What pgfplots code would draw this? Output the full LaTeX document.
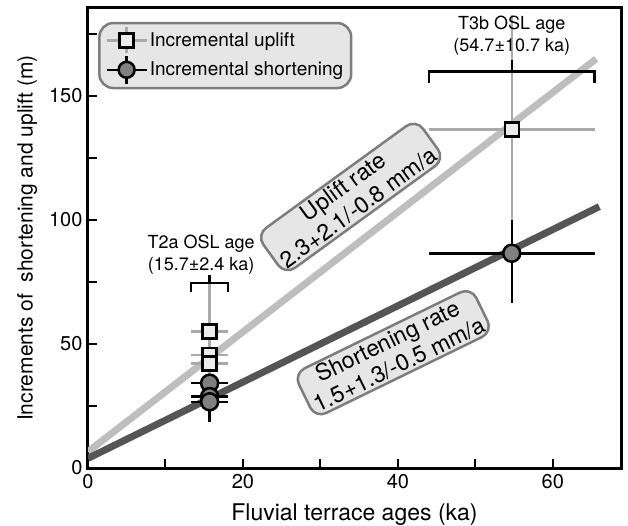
\documentclass[border=0pt]{standalone}
\usepackage{pgfplots}
\pgfplotsset{compat=1.18}
\usepackage{fontspec}
\setmainfont{TeX Gyre Heros}
\definecolor{lgray}{RGB}{190,190,190}
\definecolor{dgray}{RGB}{85,85,85}
\definecolor{ebgray}{RGB}{170,170,170}
\definecolor{sqfill}{RGB}{236,236,236}
\definecolor{cfill}{RGB}{128,128,128}
\definecolor{boxfill}{RGB}{230,230,230}
\definecolor{boxdraw}{RGB}{125,125,125}
\begin{document}
\begin{tikzpicture}
\begin{axis}[
  scale only axis, width=533pt, height=460pt,
  xmin=0, xmax=68.8, ymin=0, ymax=185.5,
  xtick={0,20,40,60}, ytick={0,50,100,150},
  minor xtick={10,30,50}, minor ytick={25,75,125,175},
  tick align=inside, xtick pos=left, ytick pos=left,
  major tick length=9pt, minor tick length=9pt,
  every tick/.style={line width=2pt, black},
  axis line style={line width=3pt},
  /pgf/number format/assume math mode=true,
  tick label style={font=\fontsize{20}{22}\selectfont},
  xticklabel style={yshift=-3pt},
  yticklabel style={xshift=-2pt},
  xlabel={Fluvial terrace ages (ka)},
  ylabel={Increments of\ \ shortening and uplift (m)},
  xlabel style={font=\fontsize{23}{26}\selectfont, yshift=-8pt},
  ylabel style={font=\fontsize{21}{24}\selectfont, yshift=5pt},
  legend cell align=left,
  legend style={at={(rel axis cs:0.019,0.970)}, anchor=north west,
    fill=boxfill, draw=boxdraw, line width=2.5pt, rounded corners=14pt,
    font=\fontsize{19}{22}\selectfont, inner xsep=6pt, inner ysep=3pt,
    row sep=0pt},
]
% legend
\addlegendimage{legend image code/.code={
  \draw[ebgray, line width=2.5pt, sharp corners] (0pt,0pt)--(40pt,0pt) (20pt,-13pt)--(20pt,13pt);
  \draw[black, line width=2.5pt, fill=sqfill, sharp corners] (13pt,-7pt) rectangle (27pt,7pt);}}
\addlegendentry{Incremental uplift}
\addlegendimage{legend image code/.code={
  \draw[black, line width=2.5pt, sharp corners] (0pt,0pt)--(40pt,0pt) (20pt,-14pt)--(20pt,14pt);
  \draw[black, line width=2.5pt, fill=cfill] (20pt,0pt) circle (8pt);}}
\addlegendentry{Incremental shortening}

% regression lines
\addplot[lgray, line width=7pt, forget plot] coordinates {(0,6.6) (65.6,165.0)};
\addplot[dgray, line width=7pt, forget plot] coordinates {(0,3.9) (66.0,105.4)};

% uplift with error bars
\addplot[only marks, forget plot, mark=square*, mark size=7pt,
  mark options={draw=black, fill=sqfill, line width=2.5pt},
  error bars/.cd, x dir=both, x explicit, y dir=both, y explicit,
  error mark=none, error bar style={line width=2.5pt, ebgray}]
coordinates {
  (15.7,55.0) += (2.4,21.6) -= (2.4,0)
  (15.7,45.6) += (2.4,9.4) -= (2.4,0)
  (15.7,42.2) += (2.4,0) -= (2.4,6.7)
  (54.7,136.6) += (10.7,46.1) -= (10.7,36.6)
};

% shortening with error bars
\addplot[only marks, forget plot, mark=*, mark size=8.5pt,
  mark options={draw=black, fill=cfill, line width=2.5pt},
  error bars/.cd, x dir=both, x explicit, y dir=both, y explicit,
  error mark=none, error bar style={line width=2.5pt, black}]
coordinates {
  (15.7,34.2) += (2.4,1.3) -= (2.4,0)
  (15.7,28.8) += (2.4,5.4) -= (2.4,0)
  (15.7,26.7) += (2.4,0) -= (2.4,8.0)
  (54.7,86.6) += (10.7,13.4) -= (10.7,20.1)
};

% OSL age brackets
\addplot[black, line width=2.5pt, forget plot, line join=miter] coordinates {(13.3,71.1) (13.3,74.6) (18.1,74.6) (18.1,71.1)};
\addplot[black, line width=2.5pt, forget plot] coordinates {(15.7,74.6) (15.7,77.8)};
\addplot[black, line width=2.5pt, forget plot, line join=miter] coordinates {(44.0,155.2) (44.0,159.8) (65.4,159.8) (65.4,155.2)};
\addplot[black, line width=2.5pt, forget plot] coordinates {(54.7,159.8) (54.7,164.5)};

\node[align=center, font=\fontsize{18}{22}\selectfont] at (axis cs:14.6,86.0) {T2a OSL age\\(15.7±2.4 ka)};
\node[align=center, font=\fontsize{18}{22}\selectfont] at (axis cs:54.7,174.5) {T3b OSL age\\(54.7±10.7 ka)};

\node[rotate=36, align=center, draw=boxdraw, line width=2.5pt, fill=boxfill,
  rounded corners=12pt, inner xsep=5pt, inner ysep=3pt,
  font=\fontsize{23}{26}\selectfont] at (axis cs:33.9,109.3) {Uplift rate\\2.3+2.1/-0.8 mm/a};
\node[rotate=26, align=center, draw=boxdraw, line width=2.5pt, fill=boxfill,
  rounded corners=12pt, inner xsep=5pt, inner ysep=3pt,
  font=\fontsize{23}{26}\selectfont] at (axis cs:39.4,46.5) {Shortening rate\\1.5+1.3/-0.5 mm/a};
\end{axis}
\pgfresetboundingbox
\useasboundingbox ([shift={(-88pt,-57pt)}]current axis.south west) rectangle ([shift={(7pt,8pt)}]current axis.north east);
\end{tikzpicture}
\end{document}
